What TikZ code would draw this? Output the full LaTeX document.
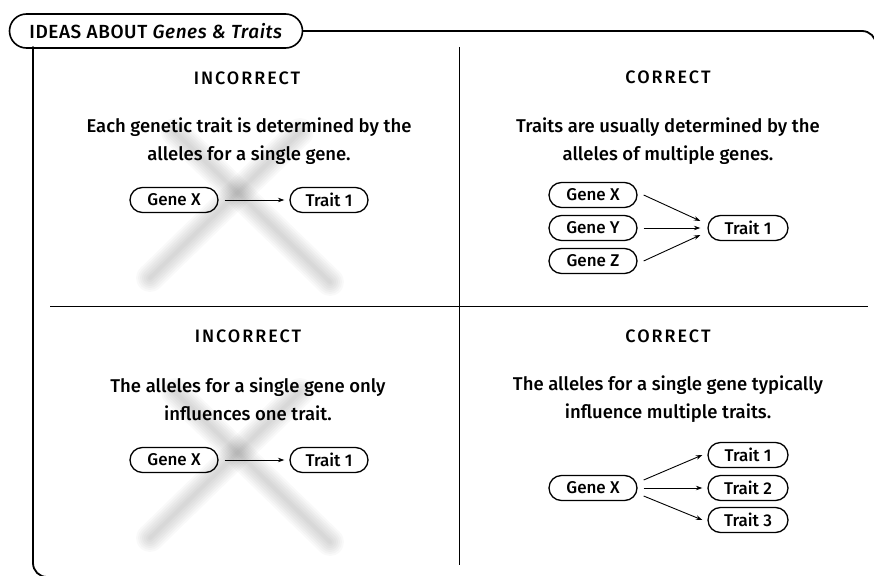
\documentclass[tikz,border=0pt]{standalone}
\usepackage{fontspec}
\setmainfont{Fira Sans}[UprightFont={* Medium}, ItalicFont={* Medium Italic}]
\usetikzlibrary{shapes.misc,arrows.meta}

\tikzset{
	box/.style={draw, rounded rectangle, line width=1.3pt, minimum width=#1, minimum height=25pt, inner sep=0pt, font=\fontsize{17}{18}\selectfont},
	box/.default=88pt,
	verdict/.style={font=\fontsize{18}{20}\selectfont\addfontfeature{LetterSpace=11}},
	claim/.style={align=center, font=\fontsize{18.5}{28}\selectfont},
	link/.style={line width=0.9pt, -{Stealth[length=6.5pt,width=4.5pt]}},
	frame/.style={line width=1.8pt, line cap=round},
	rule/.style={line width=0.8pt},
	cross/.style={line cap=round, draw=black, line width=#1, opacity=0.025},
}

\begin{document}
\begin{tikzpicture}[x=1pt, y=-1pt]
	\useasboundingbox (0,0) rectangle (874,575);

	% grey crosses behind the wrong ideas
	\foreach \dy in {0,260}{
		\foreach \w in {4,8,...,28}{
			\draw[cross=\w pt] (150,278+\dy) -- (300,132+\dy);
			\draw[cross=\w pt] (330,282+\dy) -- (175,132+\dy);
		}
	}

	% frame
	\node	(tab) at (156,31) [draw, rounded rectangle, line width=1.6pt, minimum width=293pt, minimum height=34pt, inner sep=0pt] {\fontsize{19}{20}\selectfont\addfontfeature{LetterSpace=3}IDEAS ABOUT \textit{Genes \& Traits}};
	\draw[frame, rounded corners=14pt] (tab.east) -- (876,31) -- (876,80);
	\draw[frame, rounded corners=14pt] (33,47) -- (33,577) -- (90,577);
	\draw[rule] (459,47) -- (459,565);
	\draw[rule] (50,306) -- (868,306);

	% top left
	\node	(v1) at (247,78) [verdict] {INCORRECT};
	\node	(c1) at (249,141) [claim] {Each genetic trait is determined by the\\alleles for a single gene.};
	\node	(g1) at (174,200) [box] {Gene X};
	\node	(t1) at (329,200) [box=78pt] {Trait 1};

	% top right
	\node	(v2) at (668,77) [verdict] {CORRECT};
	\node	(c2) at (668,141) [claim] {Traits are usually determined by the\\alleles of multiple genes.};
	\node	(gx) at (593,195) [box] {Gene X};
	\node	(gy) at (593,228) [box] {Gene Y};
	\node	(gz) at (593,261) [box] {Gene Z};
	\node	(t2) at (748,228) [box=80pt] {Trait 1};

	% bottom left
	\node	(v3) at (248,336) [verdict] {INCORRECT};
	\node	(c3) at (248,399) [claim] {The alleles for a single gene only\\influences one trait.};
	\node	(g3) at (174,460) [box] {Gene X};
	\node	(t3) at (329,460) [box=78pt] {Trait 1};

	% bottom right
	\node	(v4) at (668,336) [verdict] {CORRECT};
	\node	(c4) at (668,399) [claim] {The alleles for a single gene typically\\influence multiple traits.};
	\node	(g4) at (593,488) [box] {Gene X};
	\node	(ta) at (748,455) [box=80pt] {Trait 1};
	\node	(tb) at (748,488) [box=80pt] {Trait 2};
	\node	(tc) at (748,520) [box=80pt] {Trait 3};

	\draw[link] ([xshift=6pt]g1.east) -- ([xshift=-5pt]t1.west);
	\draw[link] ([xshift=6pt]g3.east) -- ([xshift=-5pt]t3.west);
	\draw[link] ([xshift=6pt]gx.east) -- ([xshift=-7pt,yshift=7pt]t2.west);
	\draw[link] ([xshift=6pt]gy.east) -- ([xshift=-7pt]t2.west);
	\draw[link] ([xshift=6pt]gz.east) -- ([xshift=-7pt,yshift=-7pt]t2.west);
	\draw[link] ([xshift=6pt,yshift=8pt]g4.east) -- ([xshift=-5pt]ta.west);
	\draw[link] ([xshift=6pt]g4.east) -- ([xshift=-5pt]tb.west);
	\draw[link] ([xshift=6pt,yshift=-8pt]g4.east) -- ([xshift=-5pt]tc.west);
\end{tikzpicture}
\end{document}
